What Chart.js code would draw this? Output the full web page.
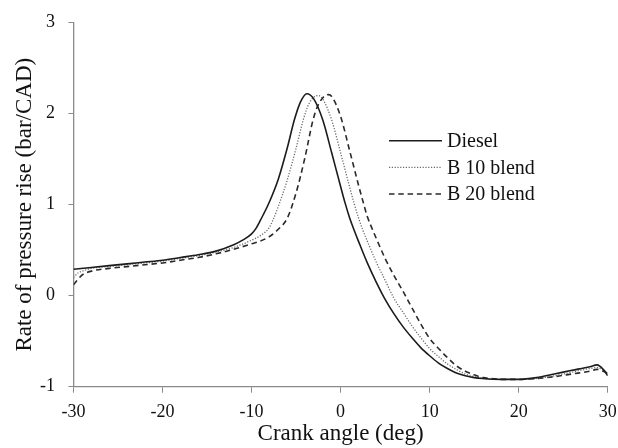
<!DOCTYPE html>
<html>
<head>
<meta charset="utf-8">
<script src="https://cdn.jsdelivr.net/npm/chart.js@4.4.1/dist/chart.umd.min.js"></script>
<style>
  html, body { margin: 0; padding: 0; background: #ffffff; }
  #wrap { width: 618px; height: 448px; position: relative; }
</style>
</head>
<body>
<div id="wrap"><canvas id="c" width="618" height="448"></canvas></div>
<script>
// ---- data ----
const seriesLabels = ["Diesel", "B 10 blend", "B 20 blend"];

const dieselAngle = [-30, -28, -26, -24, -22, -20, -18, -16, -14, -12, -11, -10, -9.5, -9, -8, -7, -6, -5.2, -4.5, -3.8, -3, -2, -1, 0, 0.5, 1, 1.6, 2, 3, 4, 5, 6, 7, 8, 9, 10, 11, 12, 13, 14, 15, 16, 18, 20, 22, 24, 26, 28, 28.8, 29.5, 30];
const dieselRate  = [0.29, 0.31, 0.33, 0.35, 0.37, 0.39, 0.42, 0.45, 0.49, 0.56, 0.61, 0.68, 0.74, 0.83, 1.03, 1.28, 1.62, 1.93, 2.13, 2.22, 2.16, 1.93, 1.57, 1.20, 1.02, 0.86, 0.70, 0.60, 0.36, 0.15, -0.04, -0.20, -0.34, -0.46, -0.57, -0.66, -0.74, -0.80, -0.85, -0.88, -0.90, -0.91, -0.92, -0.92, -0.90, -0.86, -0.82, -0.78, -0.76, -0.81, -0.88];

const b10Angle = [-30, -29.5, -29, -28, -26, -24, -22, -20, -18, -16, -14, -12, -10, -9, -8, -7.6, -7, -6, -5, -4.2, -3.5, -2.5, -2, -1, 0, 1, 1.5, 2, 2.5, 3, 4, 5, 6, 7, 8, 9, 10, 11, 12, 13, 14, 15, 16, 18, 20, 22, 24, 26, 28, 28.8, 29.5, 30];
const b10Rate  = [0.20, 0.25, 0.27, 0.30, 0.32, 0.34, 0.36, 0.38, 0.41, 0.44, 0.48, 0.53, 0.61, 0.66, 0.75, 0.83, 0.98, 1.27, 1.62, 1.93, 2.12, 2.20, 2.16, 1.93, 1.57, 1.20, 1.02, 0.86, 0.72, 0.60, 0.37, 0.17, -0.03, -0.18, -0.33, -0.46, -0.58, -0.67, -0.75, -0.81, -0.86, -0.89, -0.91, -0.92, -0.92, -0.91, -0.88, -0.84, -0.80, -0.79, -0.82, -0.86];

const b20Angle = [-30, -29.5, -29, -28, -26, -24, -22, -20, -18, -16, -14, -12, -10, -9, -8, -7, -6, -5, -4, -3.1, -2.5, -1.4, -1, 0, 1, 2, 2.5, 3, 3.7, 4, 5, 6, 7, 7.5, 8, 9, 10, 11, 12, 13, 14, 15, 16, 17, 18, 20, 22, 24, 26, 28, 28.8, 29.5, 30];
const b20Rate  = [0.12, 0.18, 0.23, 0.27, 0.30, 0.32, 0.34, 0.36, 0.39, 0.42, 0.46, 0.51, 0.57, 0.60, 0.65, 0.73, 0.85, 1.13, 1.52, 1.93, 2.10, 2.21, 2.19, 1.97, 1.60, 1.22, 1.04, 0.87, 0.70, 0.63, 0.41, 0.22, 0.05, -0.04, -0.13, -0.31, -0.47, -0.58, -0.68, -0.77, -0.83, -0.87, -0.90, -0.91, -0.92, -0.92, -0.91, -0.89, -0.86, -0.83, -0.81, -0.83, -0.85];

const xTicks = [-30, -20, -10, 0, 10, 20, 30];
const yTicks = [-1, 0, 1, 2, 3];
const xTitle = "Crank angle (deg)";
const yTitle = "Rate of pressure rise (bar/CAD)";

// ---- build datasets ----
function pts(xs, ys) { return xs.map((x, i) => ({ x: x, y: ys[i] })); }

const FONT = '"Liberation Serif"';
const AXIS_COLOR = '#8a8a8a';
Chart.defaults.font.family = FONT;

const styles = [
  { color: '#1c1c1c', width: 1.6, dash: [] },
  { color: '#6a6a6a', width: 1.3, dash: [1.2, 1.6] },
  { color: '#2a2a2a', width: 1.6, dash: [5.5, 3.8] }
];

const datasets = [
  pts(dieselAngle, dieselRate),
  pts(b10Angle, b10Rate),
  pts(b20Angle, b20Rate)
].map((d, i) => ({
  label: seriesLabels[i],
  data: d,
  borderColor: styles[i].color,
  borderWidth: styles[i].width,
  borderDash: styles[i].dash,
  pointRadius: 0,
  fill: false,
  tension: 0.4,
  cubicInterpolationMode: 'monotone'
}));

// ---- simple in-plot legend ----
const insideLegend = {
  id: 'insideLegend',
  afterDraw(chart) {
    const ctx = chart.ctx;
    const rows = [140.7, 167.3, 194];
    ctx.save();
    chart.data.datasets.forEach((ds, i) => {
      const y = rows[i];
      ctx.beginPath();
      ctx.strokeStyle = ds.borderColor;
      ctx.lineWidth = ds.borderWidth;
      ctx.setLineDash(ds.borderDash || []);
      ctx.moveTo(389, y);
      ctx.lineTo(442, y);
      ctx.stroke();
      ctx.setLineDash([]);
      ctx.fillStyle = '#111';
      ctx.font = '20px ' + FONT;
      ctx.textAlign = 'left';
      ctx.textBaseline = 'middle';
      ctx.fillText(ds.label, 447, y + 1);
    });
    ctx.restore();
  }
};

new Chart(document.getElementById('c'), {
  type: 'line',
  data: { datasets: datasets },
  plugins: [insideLegend],
  options: {
    responsive: false,
    animation: false,
    devicePixelRatio: 1,
    layout: { padding: { top: 22.7, right: 10.3, bottom: 0, left: 0 } },
    plugins: { legend: { display: false }, tooltip: { enabled: false } },
    scales: {
      x: {
        type: 'linear',
        min: -30, max: 30,
        afterBuildTicks(scale) { scale.ticks = xTicks.map(v => ({ value: v })); },
        afterFit(scale) { scale.height = 61.3; scale.paddingLeft = 0; scale.paddingRight = 0; },
        grid: { drawOnChartArea: false, drawTicks: true, tickLength: 6, color: AXIS_COLOR, lineWidth: 1 },
        border: { display: true, color: AXIS_COLOR, width: 1.3 },
        ticks: { color: '#111', font: { family: FONT, size: 18 }, padding: 9, maxRotation: 0 },
        title: { display: true, text: xTitle, color: '#111', font: { family: FONT, size: 23 }, padding: { top: 0, bottom: 0 } }
      },
      y: {
        type: 'linear',
        min: -1, max: 3,
        afterBuildTicks(scale) { scale.ticks = yTicks.map(v => ({ value: v })); },
        afterFit(scale) { scale.width = 73.5; scale.paddingTop = 0; scale.paddingBottom = 0; },
        grid: { drawOnChartArea: false, drawTicks: true, tickLength: 5, color: AXIS_COLOR, lineWidth: 1 },
        border: { display: true, color: AXIS_COLOR, width: 1.3 },
        ticks: { color: '#111', font: { family: FONT, size: 18 }, padding: 13.5 },
        title: { display: true, text: yTitle, color: '#111', font: { family: FONT, size: 23 }, padding: { top: 11.2, bottom: 0 } }
      }
    }
  }
});
</script>
</body>
</html>
